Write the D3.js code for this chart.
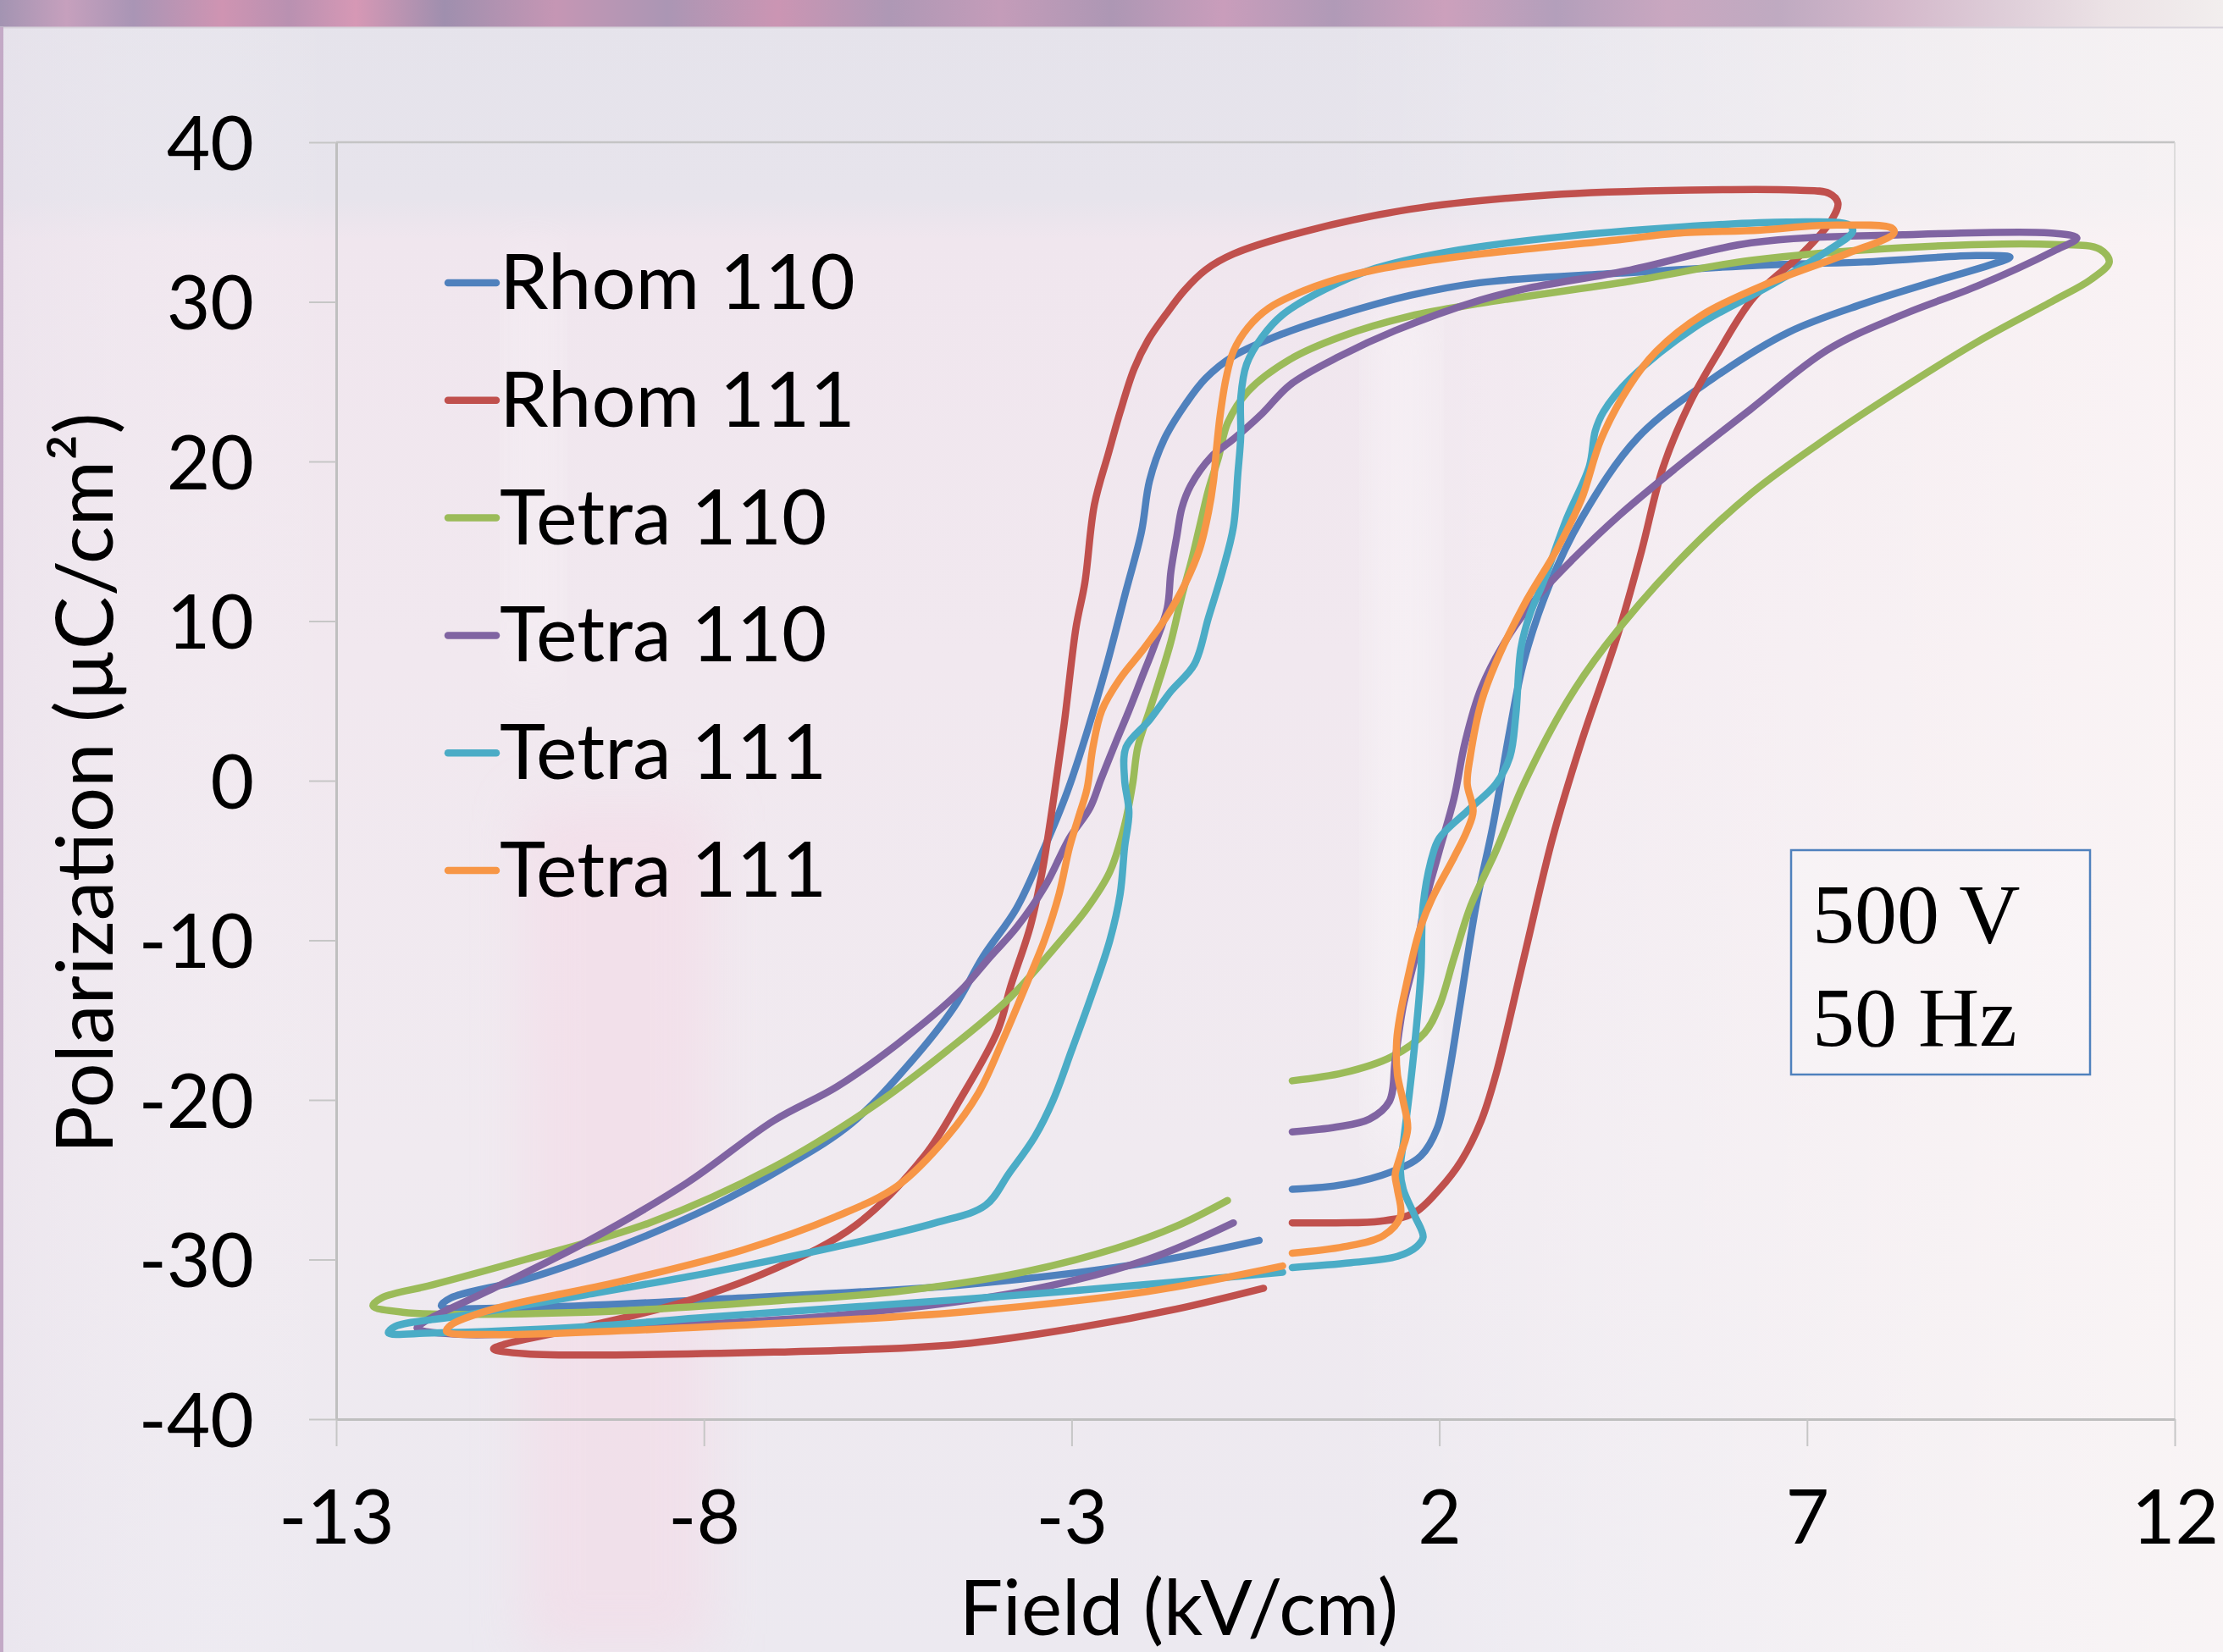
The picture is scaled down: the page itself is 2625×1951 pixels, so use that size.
<!DOCTYPE html>
<html><head><meta charset="utf-8">
<script src="https://cdn.jsdelivr.net/npm/d3@7"></script>
<style>html,body{margin:0;padding:0;background:#efe9ef;overflow:hidden}</style>
</head><body>
<svg id="chart" width="2625" height="1951"></svg>
<script>
// ---------------- DATA ----------------
const seriesNames = ["Rhom 110", "Rhom 111", "Tetra 110", "Tetra 110", "Tetra 111", "Tetra 111"];

// [field kV/cm, polarization µC/cm²]
const rhom110 = [[0,-25.6],[0.7,-25.3],[1.35,-24.5],[1.75,-23.5],[1.97,-21.8],[2.13,-18.4],[2.28,-14.1],[2.5,-7.8],[2.73,-2.8],[2.96,3.2],[3.15,7.5],[3.5,12.3],[3.93,16.4],[4.7,21.5],[5.72,25.2],[6.75,28.1],[7.78,29.9],[8.82,31.4],[9.48,32.3],[9.76,32.8],[9.3,32.9],[7.78,32.5],[6.37,32.3],[4.46,31.8],[2.55,31.2],[1.6,30.4],[0.65,29.2],[-0.13,28.0],[-0.8,26.6],[-1.18,25.2],[-1.45,23.6],[-1.74,21.4],[-1.94,18.8],[-2.05,15.6],[-2.26,11.9],[-2.52,7.3],[-2.8,2.9],[-3.06,-0.7],[-3.37,-4.2],[-3.75,-8.0],[-4.2,-11.0],[-4.6,-14.2],[-5.2,-17.7],[-6.0,-21.5],[-6.9,-24.2],[-7.9,-26.7],[-9.16,-29.2],[-10.4,-31.2],[-11.44,-32.4],[-11.57,-32.9],[-10.4,-33.0],[-7.9,-32.5],[-4.52,-31.6],[-1.97,-30.2],[-0.45,-28.8]];

const rhom111 = [[0,-27.7],[0.6,-27.7],[1.2,-27.6],[1.65,-27.1],[2.0,-25.6],[2.3,-23.8],[2.57,-21.3],[2.77,-18.4],[3.15,-11.1],[3.54,-3.6],[3.93,2.4],[4.43,9.2],[4.75,14.4],[5.04,19.6],[5.41,23.7],[5.79,26.8],[6.28,30.3],[6.95,33.1],[7.33,35.1],[7.42,36.2],[7.3,36.8],[6.85,37.0],[5.41,37.0],[3.5,36.7],[1.6,35.8],[0.16,34.4],[-0.8,33.0],[-1.18,32.0],[-1.47,30.7],[-1.72,29.2],[-1.96,27.6],[-2.15,25.8],[-2.34,23.1],[-2.5,20.5],[-2.69,17.3],[-2.82,12.4],[-2.94,9.6],[-3.1,3.6],[-3.25,-1.3],[-3.4,-5.7],[-3.56,-9.1],[-3.83,-12.9],[-4.0,-15.6],[-4.52,-20.0],[-5.0,-23.5],[-5.95,-27.9],[-7.05,-30.6],[-8.3,-32.7],[-9.6,-34.2],[-10.7,-35.3],[-10.86,-35.6],[-10.43,-35.9],[-7.05,-35.8],[-4.52,-35.3],[-2.83,-34.2],[-1.57,-33.1],[-0.39,-31.8]];

const tetra110a = [[0,-18.8],[0.7,-18.3],[1.35,-17.3],[1.8,-15.8],[2.0,-14.1],[2.2,-11.1],[2.43,-7.8],[2.77,-4.4],[3.15,-0.2],[3.73,4.9],[4.25,8.4],[5.22,13.6],[6.24,18.0],[7.28,21.5],[8.3,24.6],[9.32,27.5],[10.36,30.1],[10.86,31.4],[11.11,32.5],[10.98,33.3],[10.36,33.6],[8.3,33.4],[6.24,32.6],[4.6,31.3],[2.55,29.9],[1.6,29.1],[0.65,27.8],[-0.03,26.4],[-0.6,24.4],[-0.88,22.4],[-1.0,20.3],[-1.14,18.2],[-1.26,15.9],[-1.38,13.6],[-1.5,11.6],[-1.65,8.7],[-1.8,6.4],[-1.94,4.4],[-2.1,2.1],[-2.17,-0.2],[-2.28,-2.8],[-2.48,-5.7],[-2.79,-8.0],[-3.2,-10.3],[-3.84,-13.6],[-4.69,-16.9],[-5.7,-20.4],[-7.05,-24.2],[-8.74,-27.7],[-10.43,-30.0],[-11.7,-31.6],[-12.38,-32.4],[-12.5,-32.9],[-12.1,-33.3],[-9.6,-33.3],[-7.05,-32.6],[-5.37,-32.0],[-3.67,-30.8],[-2.4,-29.3],[-1.57,-27.9],[-0.88,-26.3]];

const tetra110b = [[0,-22.0],[0.6,-21.7],[1.05,-21.2],[1.32,-20.1],[1.4,-17.5],[1.51,-14.1],[1.67,-11.1],[1.8,-7.8],[2.0,-4.4],[2.2,-1.1],[2.35,2.4],[2.57,5.8],[2.96,9.2],[3.35,11.6],[3.8,13.8],[4.44,16.6],[5.22,19.6],[6.24,23.3],[7.28,27.0],[8.3,29.2],[9.32,31.0],[10.36,33.2],[10.67,34.0],[10.36,34.3],[8.3,34.2],[6.24,33.7],[4.6,32.0],[3.15,30.8],[2.55,30.1],[1.4,28.2],[0.65,26.6],[-0.03,24.8],[-0.41,23.0],[-0.8,21.4],[-1.1,20.3],[-1.38,18.5],[-1.5,17.1],[-1.57,15.3],[-1.65,13.1],[-1.7,10.8],[-1.88,8.4],[-2.05,6.4],[-2.22,4.4],[-2.4,2.4],[-2.6,0.1],[-2.75,-1.7],[-3.03,-3.6],[-3.36,-6.6],[-3.75,-9.2],[-4.1,-11.0],[-4.52,-13.2],[-5.37,-16.5],[-6.2,-19.2],[-7.05,-21.3],[-8.23,-25.2],[-9.6,-28.9],[-10.86,-31.8],[-11.8,-33.9],[-11.9,-34.3],[-11.27,-34.7],[-8.74,-34.2],[-6.2,-33.5],[-3.67,-32.0],[-1.97,-30.0],[-0.8,-27.7]];

const tetra111a = [[0,-30.5],[0.8,-30.2],[1.43,-29.8],[1.69,-29.2],[1.78,-28.6],[1.67,-27.3],[1.51,-25.6],[1.47,-24.4],[1.51,-22.7],[1.59,-19.7],[1.67,-16.3],[1.75,-12.0],[1.78,-7.8],[1.9,-4.8],[2.0,-3.6],[2.38,-1.9],[2.77,-0.2],[2.96,1.5],[3.04,4.1],[3.11,8.3],[3.23,10.4],[3.42,12.5],[3.73,16.4],[4.04,19.7],[4.12,21.9],[4.23,23.1],[4.6,25.2],[5.47,28.4],[6.49,31.0],[7.28,33.2],[7.62,34.4],[7.58,34.8],[6.75,35.0],[5.3,34.7],[3.5,34.0],[2.07,33.1],[1.13,32.1],[0.45,30.8],[-0.13,29.2],[-0.41,27.8],[-0.62,26.1],[-0.7,24.0],[-0.7,21.6],[-0.74,19.2],[-0.8,15.9],[-0.95,13.1],[-1.14,10.2],[-1.33,7.3],[-1.65,5.6],[-1.94,3.8],[-2.26,2.1],[-2.28,0.1],[-2.22,-2.0],[-2.28,-4.2],[-2.34,-7.1],[-2.48,-10.0],[-2.74,-13.6],[-3.0,-16.9],[-3.25,-20.0],[-3.5,-22.3],[-3.85,-24.6],[-4.17,-26.6],[-4.85,-27.7],[-6.2,-29.2],[-7.9,-30.8],[-9.6,-32.2],[-11.27,-33.5],[-12.2,-34.2],[-12.29,-34.6],[-11.7,-34.6],[-9.6,-34.2],[-7.9,-33.6],[-4.52,-32.5],[-2.83,-31.9],[-0.13,-30.8]];

const tetra111b = [[0,-29.6],[0.7,-29.2],[1.24,-28.5],[1.47,-27.3],[1.43,-25.6],[1.4,-24.7],[1.47,-23.5],[1.57,-21.8],[1.51,-20.1],[1.43,-18.4],[1.42,-16.3],[1.47,-14.6],[1.57,-12.4],[1.67,-10.4],[1.75,-9.1],[1.9,-7.4],[2.2,-4.8],[2.38,-3.1],[2.46,-1.9],[2.38,-0.2],[2.42,1.5],[2.57,4.9],[2.77,7.4],[3.15,11.0],[3.6,14.5],[3.93,17.6],[4.2,21.4],[4.58,24.7],[4.95,26.9],[5.58,29.2],[6.49,31.2],[7.53,33.0],[8.18,34.3],[8.16,34.6],[7.28,34.8],[6.37,34.5],[5.22,34.3],[4.46,33.9],[2.55,33.0],[1.6,32.4],[0.83,31.7],[0.16,30.7],[-0.32,29.6],[-0.6,28.4],[-0.8,26.9],[-0.9,25.2],[-0.98,22.9],[-1.03,20.8],[-1.07,18.8],[-1.14,16.8],[-1.26,14.5],[-1.45,12.4],[-1.72,10.2],[-2.03,8.2],[-2.34,6.4],[-2.59,4.4],[-2.71,2.1],[-2.79,-0.5],[-2.9,-2.2],[-3.03,-4.2],[-3.17,-7.1],[-3.37,-10.0],[-3.6,-12.6],[-3.93,-16.2],[-4.27,-19.6],[-4.69,-22.3],[-5.37,-25.4],[-6.2,-27.3],[-7.47,-29.4],[-9.16,-31.4],[-10.86,-33.1],[-11.44,-34.1],[-11.5,-34.5],[-10.86,-34.7],[-7.9,-34.2],[-4.52,-33.3],[-1.97,-32.0],[-0.13,-30.4]];

const xTicks = [-13, -8, -3, 2, 7, 12];
const yTicks = [40, 30, 20, 10, 0, -10, -20, -30, -40];
const xTitle = "Field (kV/cm)";
const yTitle = "Polarization (µC/cm²)";
const boxLines = ["500 V", "50 Hz"];

// ---------------- STYLE / LAYOUT ----------------
const allSeries = [rhom110, rhom111, tetra110a, tetra110b, tetra111a, tetra111b];
const colors = ["#4F81BD", "#C0504D", "#9BBB59", "#8064A2", "#4BACC6", "#F79646"];
const W = 2625, H = 1951;
const P = {left: 397, right: 2568, top: 168, bottom: 1676};
const sans = "Lato, 'Open Sans', sans-serif";

const svg = d3.select("#chart");
const defs = svg.append("defs");

// --- background ---
const band = defs.append("linearGradient").attr("id", "band").attr("x1", 0).attr("x2", 1).attr("y1", 0).attr("y2", 0);
[[0,"#a394b2"],[0.03,"#c6a0bd"],[0.06,"#a995b5"],[0.1,"#cf94b2"],[0.13,"#b991b1"],[0.16,"#d698b5"],[0.2,"#9f8fae"],[0.25,"#c596b4"],[0.3,"#ab96b4"],[0.35,"#cb95b3"],[0.4,"#ae98b5"],[0.45,"#c49cb9"],[0.5,"#ad97b4"],[0.55,"#c99dbb"],[0.6,"#b09ab7"],[0.65,"#cca0bc"],[0.7,"#b39fbb"],[0.75,"#c9a7c0"],[0.8,"#bfaac1"],[0.85,"#d3b7ca"],[0.9,"#decdd8"],[0.95,"#ece3e6"],[1,"#f2eeee"]]
  .forEach(s => band.append("stop").attr("offset", s[0]).attr("stop-color", s[1]));

const panelV = defs.append("linearGradient").attr("id", "panelV").attr("x1", 0).attr("x2", 0).attr("y1", 0).attr("y2", 1);
[[0,"#e5e3eb"],[0.12,"#e7e4ec"],[0.145,"#f0e6ee"],[0.4,"#f1e8ef"],[0.7,"#f0eaf0"],[1,"#ece9f0"]]
  .forEach(s => panelV.append("stop").attr("offset", s[0]).attr("stop-color", s[1]));

const panelH = defs.append("linearGradient").attr("id", "panelH").attr("x1", 0).attr("x2", 1).attr("y1", 0).attr("y2", 0);
[[0,"#e6dfea",0.35],[0.15,"#ffffff",0],[0.6,"#ffffff",0],[0.85,"#fffaf8",0.45],[1,"#fffaf8",0.65]]
  .forEach(s => panelH.append("stop").attr("offset", s[0]).attr("stop-color", s[1]).attr("stop-opacity", s[2]));

const blur = defs.append("filter").attr("id", "blur").attr("x", "-50%").attr("y", "-50%").attr("width", "200%").attr("height", "200%");
blur.append("feGaussianBlur").attr("stdDeviation", 30);

const bg = svg.append("g");
bg.append("rect").attr("width", W).attr("height", H).attr("fill", "url(#panelV)");
bg.append("rect").attr("width", W).attr("height", H).attr("fill", "url(#panelH)");
bg.append("rect").attr("x", 620).attr("y", 950).attr("width", 220).attr("height", 1000).attr("fill", "#f4d9e6").attr("opacity", 0.55).attr("filter", "url(#blur)");
bg.append("rect").attr("x", 1630).attr("y", 350).attr("width", 50).attr("height", 1000).attr("fill", "#ffffff").attr("opacity", 0.45).attr("filter", "url(#blur)");
bg.append("rect").attr("x", 610).attr("y", 300).attr("width", 40).attr("height", 500).attr("fill", "#ffffff").attr("opacity", 0.35).attr("filter", "url(#blur)");
bg.append("rect").attr("width", W).attr("height", 32).attr("fill", "url(#band)");
bg.append("line").attr("x1", 0).attr("x2", W).attr("y1", 32.5).attr("y2", 32.5).attr("stroke", "#d6d1da").attr("stroke-width", 2);
bg.append("rect").attr("x", 0).attr("y", 32).attr("width", 4).attr("height", H - 32).attr("fill", "#c3a9c6");

// --- scales & axes ---
const x = d3.scaleLinear().domain([-13, 12]).range([P.left, P.right]);
const y = d3.scaleLinear().domain([-40, 40]).range([P.bottom, P.top]);

// plot border (top / right)
svg.append("line").attr("x1", P.left).attr("x2", P.right).attr("y1", P.top).attr("y2", P.top).attr("stroke", "#c4c4c4").attr("stroke-width", 2.5);
svg.append("line").attr("x1", P.right).attr("x2", P.right).attr("y1", P.top).attr("y2", P.bottom).attr("stroke", "#d4d4d4").attr("stroke-width", 1.5);

const gx = svg.append("g").attr("transform", `translate(0,${P.bottom})`)
  .call(d3.axisBottom(x).tickValues(xTicks).tickSize(32).tickSizeOuter(0).tickFormat(d => String(d)));
const gy = svg.append("g").attr("transform", `translate(${P.left},0)`)
  .call(d3.axisLeft(y).tickValues(yTicks).tickSize(32).tickSizeOuter(0).tickFormat(d => String(d)));
[gx, gy].forEach(g => {
  g.select(".domain").attr("stroke", "#bfbfbf").attr("stroke-width", 3);
  g.selectAll(".tick line").attr("stroke", "#c6c6c6").attr("stroke-width", 2);
  g.selectAll(".tick text").attr("fill", "#000").style("font-family", sans).style("font-size", "89px");
});
gx.selectAll(".tick text").attr("y", 147).attr("dy", null);
gy.selectAll(".tick text").attr("x", -97).attr("dy", "0.36em");

// axis titles
svg.append("text").attr("x", 1392).attr("y", 1931).attr("text-anchor", "middle")
  .style("font-family", sans).style("font-size", "91px").attr("fill", "#000").text(xTitle);
svg.append("text").attr("transform", "translate(133,925) rotate(-90)").attr("text-anchor", "middle")
  .style("font-family", sans).style("font-size", "94px").attr("fill", "#000").text(yTitle);

// --- series ---
const line = d3.line().x(d => x(d[0])).y(d => y(d[1])).curve(d3.curveCatmullRom.alpha(0.5));
svg.append("g").selectAll("path").data(allSeries).join("path")
  .attr("d", line).attr("fill", "none")
  .attr("stroke", (d, i) => colors[i]).attr("stroke-width", 8.5)
  .attr("stroke-linejoin", "round").attr("stroke-linecap", "round");

// --- legend ---
const leg = svg.append("g").selectAll("g").data(seriesNames).join("g")
  .attr("transform", (d, i) => `translate(0,${334 + i * 138.8})`);
leg.append("line").attr("x1", 529).attr("x2", 586).attr("y1", 0).attr("y2", 0)
  .attr("stroke", (d, i) => colors[i]).attr("stroke-width", 8.5).attr("stroke-linecap", "round");
leg.append("text").attr("x", 590).attr("y", 31)
  .style("font-family", sans).style("font-size", "92px").attr("fill", "#000").text(d => d);

// --- annotation box ---
svg.append("rect").attr("x", 2115).attr("y", 1004).attr("width", 353).attr("height", 265)
  .attr("fill", "#ffffff").attr("fill-opacity", 0.2).attr("stroke", "#4F81BD").attr("stroke-width", 2.5);
svg.append("g").selectAll("text").data(boxLines).join("text")
  .attr("x", 2140).attr("y", (d, i) => 1113 + i * 122)
  .style("font-family", "'Liberation Serif', 'DejaVu Serif', serif").style("font-size", "100px")
  .attr("fill", "#000").text(d => d);
</script>
</body></html>
